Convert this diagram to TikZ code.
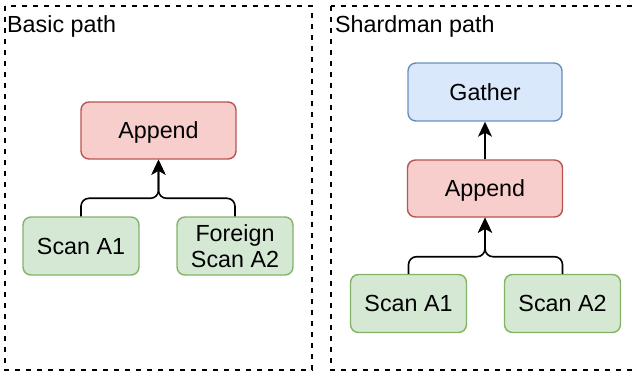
\documentclass[tikz,border=0pt]{standalone}
\usepackage{fontspec}
\setmainfont{Liberation Sans}
\usetikzlibrary{arrows.meta}

\definecolor{redfill}{HTML}{F8CECC}
\definecolor{redline}{HTML}{B85450}
\definecolor{greenfill}{HTML}{D5E8D4}
\definecolor{greenline}{HTML}{82B366}
\definecolor{bluefill}{HTML}{DAE8FC}
\definecolor{blueline}{HTML}{6C8EBF}

\begin{document}
\begin{tikzpicture}[x=1pt, y=-1pt,
  every node/.style={font=\fontsize{23.3}{26.5}\selectfont, inner sep=0pt},
  opbox/.style={draw, rounded corners=8pt, line width=1.4pt, align=center},
  oneline/.style={text depth=0pt},
  appendbox/.style={opbox, oneline, fill=redfill, draw=redline, minimum width=155pt, minimum height=57pt},
  gatherbox/.style={opbox, oneline, fill=bluefill, draw=blueline, minimum width=154pt, minimum height=58pt},
  scanbox/.style={opbox, fill=greenfill, draw=greenline, minimum width=116pt, minimum height=58pt},
  group/.style={draw, line width=1.3pt, dash pattern=on 5pt off 6pt},
  grouplabel/.style={anchor=base west},
  conn/.style={draw, line width=1.6pt, rounded corners=8pt, -{Stealth[length=15pt, width=14pt, inset=4pt]}}
]
\useasboundingbox (0,0) rectangle (636,371);

% dashed group frames
\draw[group] (5,6) rectangle (312,370);
\draw[group] (331,6) rectangle (640,370);
\node[grouplabel] (lbasic) at (7,33) {Basic path};
\node[grouplabel] (lshard) at (335,33) {Shardman path};

% basic path
\node[appendbox] (bapp) at (158.5,130.5) {Append};
\node[scanbox, oneline] (bs1) at (81,246) {Scan A1};
\node[scanbox] (bs2) at (235,246) {Foreign\\Scan A2};
\coordinate (bj) at (158.5,198.3);
\draw[conn] (bs1.north) |- (bj) -- (bapp.south);
\draw[conn] (bs2.north) |- (bj) -- (bapp.south);

% shardman path
\node[gatherbox] (sgat) at (485,92) {Gather};
\node[appendbox] (sapp) at (485,188.5) {Append};
\node[scanbox, oneline] (ss1) at (408.5,303.5) {Scan A1};
\node[scanbox, oneline] (ss2) at (562.5,303.5) {Scan A2};
\coordinate (sj) at (485,256.7);
\draw[conn] (ss1.north) |- (sj) -- (sapp.south);
\draw[conn] (ss2.north) |- (sj) -- (sapp.south);
\draw[conn] (sapp.north) -- (sgat.south);
\end{tikzpicture}
\end{document}
